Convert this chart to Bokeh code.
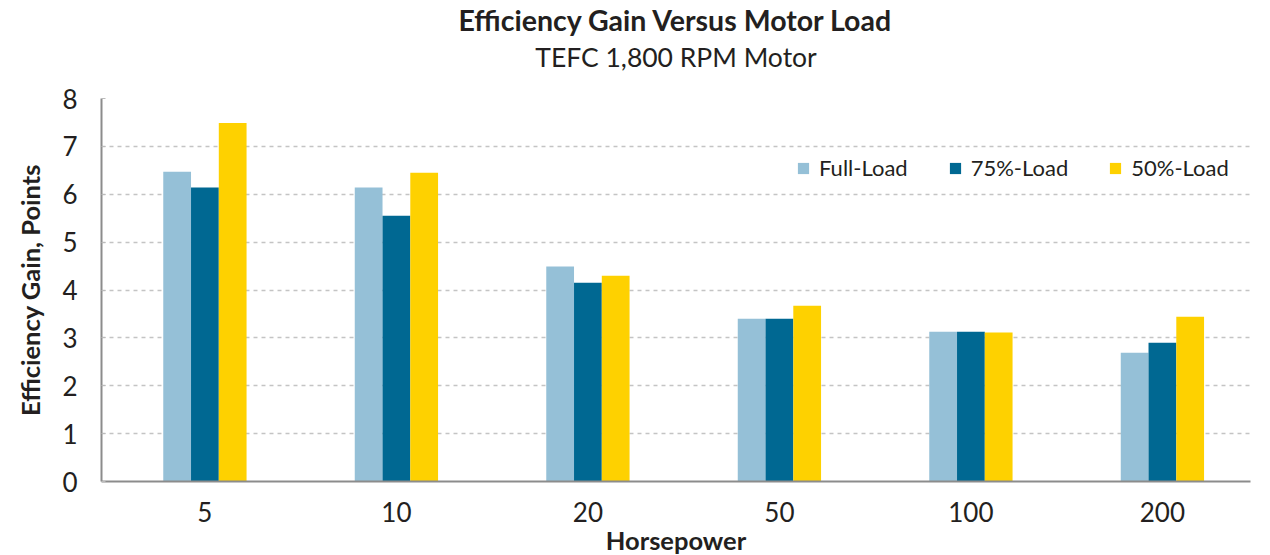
from bokeh.plotting import figure
from bokeh.models import Range1d, FixedTicker, Legend, LegendItem, Title, ColumnDataSource
from bokeh.embed import file_html
from bokeh.resources import INLINE

horsepower = ["5", "10", "20", "50", "100", "200"]
full_load = [6.47, 6.14, 4.49, 3.40, 3.13, 2.69]
load_75 = [6.14, 5.55, 4.15, 3.40, 3.13, 2.90]
load_50 = [7.49, 6.45, 4.30, 3.67, 3.11, 3.44]
series_names = ["Full-Load", "75%-Load", "50%-Load"]
colors = ["#95C0D7", "#006892", "#FED100"]

FONT = "Lato"
TXT = "#231F20"

idx = list(range(len(horsepower)))
p = figure(frame_width=1149, frame_height=383, output_backend="svg", toolbar_location=None,
           x_range=Range1d(-0.54, 5.46), y_range=Range1d(0, 8),
           min_border_left=101, min_border_right=12, min_border_top=98, min_border_bottom=0)
p.outline_line_color = None
p.background_fill_color = "white"
p.border_fill_color = "white"

spacer = Title(text=" ", align="center", text_font=FONT, text_font_size="1px", standoff=22)
sub = Title(text="TEFC 1,800 RPM Motor", align="center", text_font=FONT, text_font_size="26.5px",
            text_font_style="normal", text_color=TXT, standoff=2)
main = Title(text="Efficiency Gain Versus Motor Load", align="center", text_font=FONT,
             text_font_size="28.5px", text_font_style="bold", text_color=TXT, standoff=1)
p.add_layout(spacer, "above")
p.add_layout(sub, "above")
p.add_layout(main, "above")

bw = 0.145
renderers = []
for k, (vals, col) in enumerate(zip([full_load, load_75, load_50], colors)):
    off = (k - 1) * bw
    src = ColumnDataSource(dict(x=[i + off for i in idx], top=vals))
    r = p.vbar(x="x", top="top", width=bw, bottom=0, source=src, fill_color=col, line_color=None)
    renderers.append(r)

legend = Legend(items=[LegendItem(label=n, renderers=[r]) for n, r in zip(series_names, renderers)],
                orientation="horizontal", location=(695, 300), background_fill_alpha=0,
                border_line_color=None, padding=0, margin=0, spacing=40, label_standoff=9,
                glyph_width=14, glyph_height=14, label_text_font=FONT, label_text_font_size="22px",
                label_text_color=TXT, label_height=14)
p.add_layout(legend, "center")

p.xaxis.ticker = FixedTicker(ticks=idx)
p.xaxis.major_label_overrides = {i: h for i, h in zip(idx, horsepower)}
p.yaxis.ticker = FixedTicker(ticks=list(range(0, 9)))

p.xaxis.axis_label = "Horsepower"
p.yaxis.axis_label = "Efficiency Gain, Points"
for ax in (p.xaxis[0], p.yaxis[0]):
    ax.axis_label_text_font = FONT
    ax.axis_label_text_font_size = "25.5px"
    ax.axis_label_text_font_style = "bold"
    ax.axis_label_text_color = TXT
    ax.major_label_text_font = FONT
    ax.major_label_text_font_size = "26px"
    ax.major_label_text_color = TXT
    ax.axis_line_color = "#8C8C8C"
    ax.axis_line_width = 2
    ax.minor_tick_line_color = None
p.xaxis.major_tick_line_color = None
p.xaxis.major_label_standoff = 14
p.xaxis.axis_label_standoff = 0
p.yaxis.major_tick_in = 4
p.yaxis.major_tick_out = 0
p.yaxis.major_tick_line_color = "#BBBBBB"
p.yaxis.major_label_standoff = 24
p.yaxis.axis_label_standoff = 14

p.xgrid.grid_line_color = None
p.ygrid.grid_line_color = "#C4C4C4"
p.ygrid.grid_line_dash = "4 4"
p.ygrid.grid_line_width = 1.5

open("out.html", "w").write(file_html(p, INLINE))
